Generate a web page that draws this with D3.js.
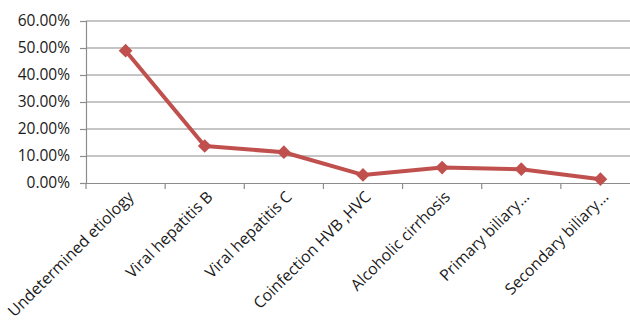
<!DOCTYPE html>
<html><head><meta charset="utf-8">
<script src="https://cdn.jsdelivr.net/npm/d3@7"></script>
<style>body{margin:0;background:#fff}svg{display:block}</style>
</head><body>
<script>
const categories = ["Undetermined etiology","Viral hepatitis B","Viral hepatitis C","Coinfection HVB ,HVC","Alcoholic cirrhosis","Primary biliary…","Secondary biliary…"];
const values = [0.49, 0.137, 0.114, 0.030, 0.057, 0.051, 0.014];
const yTicks = [0, 0.1, 0.2, 0.3, 0.4, 0.5, 0.6];

const W = 630, H = 327;
const m = {left: 86, top: 21, right: -10, bottom: 144};
const svg = d3.select("body").append("svg").attr("width", W).attr("height", H);
const x = d3.scaleBand().domain(categories).range([m.left, W - m.right]);
const y = d3.scaleLinear().domain([0, 0.6]).range([H - m.bottom, m.top]);
const font = "'Open Sans', 'Liberation Sans', sans-serif";

// gridlines
svg.append("g").selectAll("line").data(yTicks.slice(1)).join("line")
  .attr("x1", m.left).attr("x2", W - m.right)
  .attr("y1", d => y(d)).attr("y2", d => y(d))
  .attr("stroke", "#8c8c8c").attr("stroke-width", 1.2);

// y axis
const ya = svg.append("g").attr("transform", `translate(${m.left},0)`)
  .call(d3.axisLeft(y).tickValues(yTicks).tickFormat(d3.format(".2%")).tickSize(6).tickPadding(10));
ya.select(".domain").attr("stroke", "#8c8c8c").attr("stroke-width", 1.2);
ya.selectAll(".tick line").attr("stroke", "#8c8c8c").attr("stroke-width", 1.2);
ya.selectAll("text").attr("font-family", font).attr("font-size", 15.5).attr("fill", "#1a1a1a");

// x axis
const xa = svg.append("g").attr("transform", `translate(0,${y(0)})`)
  .call(d3.axisBottom(x).tickSizeOuter(0).tickSize(0));
xa.select(".domain").attr("stroke", "#8c8c8c").attr("stroke-width", 1.2);
xa.selectAll(".tick text").remove();
// band-boundary ticks
svg.append("g").selectAll("line").data(categories).join("line")
  .attr("x1", d => x(d)).attr("x2", d => x(d))
  .attr("y1", y(0)).attr("y2", y(0) + 6)
  .attr("stroke", "#8c8c8c").attr("stroke-width", 1.2);
// labels
svg.append("g").selectAll("text").data(categories).join("text")
  .attr("transform", d => `translate(${x(d) + x.bandwidth()/2 + 5},${y(0) + 11}) rotate(-45)`)
  .attr("text-anchor", "end").attr("dy", "0.35em")
  .attr("font-family", font).attr("font-size", 15.8).attr("fill", "#1a1a1a")
  .text(d => d);

// line
const line = d3.line().x((d, i) => x(categories[i]) + x.bandwidth()/2).y(d => y(d));
svg.append("path").datum(values).attr("d", line)
  .attr("fill", "none").attr("stroke", "#c0504d").attr("stroke-width", 4).attr("stroke-linejoin", "round");

svg.append("g").selectAll("path").data(values).join("path")
  .attr("d", d3.symbol().type(d3.symbolDiamond2).size(120))
  .attr("transform", (d, i) => `translate(${x(categories[i]) + x.bandwidth()/2},${y(d)})`)
  .attr("fill", "#c0504d");
</script>
</body></html>
